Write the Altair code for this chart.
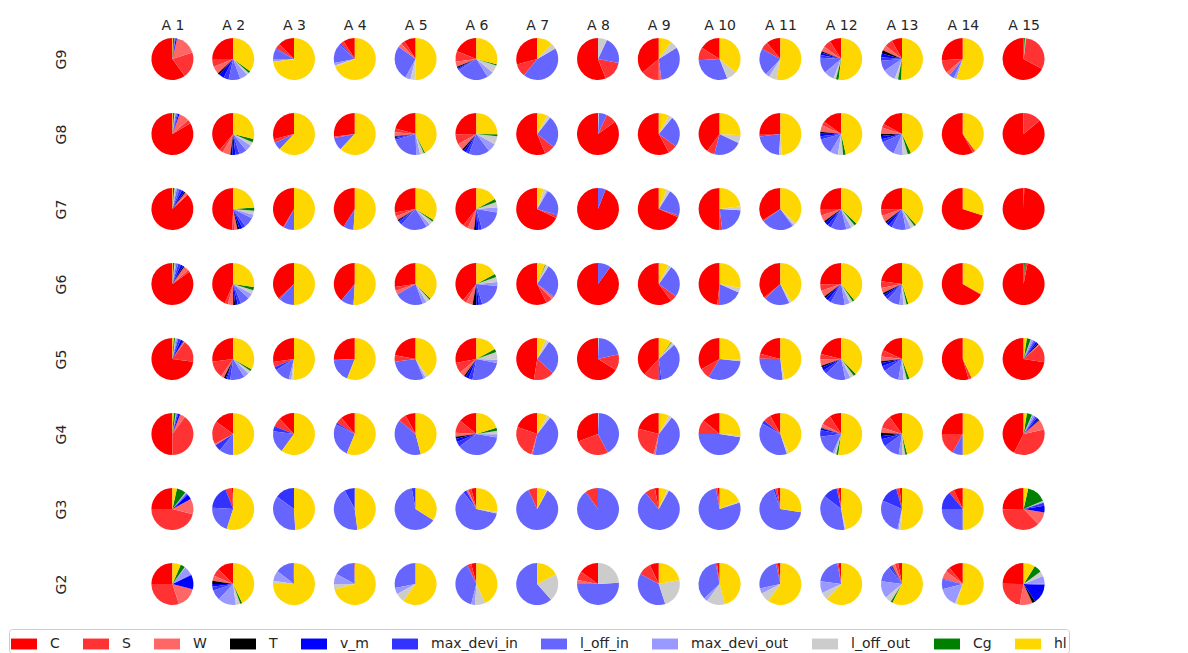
import altair as alt
import pandas as pd

rows = ["G9", "G8", "G7", "G6", "G5", "G4", "G3", "G2"]
cols = ["A 1", "A 2", "A 3", "A 4", "A 5", "A 6", "A 7", "A 8", "A 9", "A 10",
        "A 11", "A 12", "A 13", "A 14", "A 15"]
categories = ["C", "S", "W", "T", "v_m", "max_devi_in", "l_off_in",
              "max_devi_out", "l_off_out", "Cg", "hl"]
colors = ["#ff0000", "#ff3333", "#ff6666", "#000000", "#0000ff", "#3333ff",
          "#6666ff", "#9999ff", "#cccccc", "#008000", "#ffd700"]

# each inner list: C, S, W, T, v_m, max_devi_in, l_off_in, max_devi_out, l_off_out, Cg, hl
G9 = [
    [60, 20, 16.5, 0, 1, 0.5, 0.5, 0, 0, 1, 0.5],
    [25, 6, 6, 1.5, 4, 4, 9, 6, 2, 1.5, 35],
    [12.5, 4, 0, 0, 0, 0.5, 8, 2, 0, 0, 73],
    [9, 3, 0, 0, 0, 1, 15, 2, 1, 0, 69],
    [9, 3, 3, 0, 0, 0, 27, 4, 4, 0, 50],
    [19, 8, 4, 1, 1, 1, 25, 5, 6, 1, 29],
    [29, 10, 0, 0, 0, 0, 44, 0, 4, 0, 12.5],
    [56, 16, 0, 0, 0, 0, 21, 0, 7, 0, 0],
    [36, 14, 2, 0, 0, 0, 32, 0, 6, 0, 10],
    [16, 10, 0, 0, 0, 0, 30, 0, 8, 0, 36],
    [11, 6, 0, 0, 0, 0, 21, 3, 6, 0, 53],
    [9, 6, 4, 1, 2, 2, 12, 8, 2, 2, 52],
    [8, 6, 4, 2.5, 3, 2.5, 8, 10, 2.5, 2.5, 50],
    [26, 10, 3, 0, 0, 0, 4, 2, 0, 0, 55],
    [67, 31, 0.5, 0, 0, 0, 0, 0, 0.5, 1, 0],
]
G8 = [
    [83.5, 3, 8, 0, 1, 1, 1, 0.5, 0.5, 1, 0.5],
    [39, 3, 6, 1.5, 2.5, 3, 6, 5, 3, 2.5, 29],
    [29, 3, 0, 0, 0, 0, 6, 0, 0, 0, 62],
    [27, 1, 0, 0, 0, 0, 10, 0, 0, 0, 62],
    [21, 3, 3, 0.5, 1, 1.5, 21, 3, 3, 1, 43],
    [25, 8, 5, 1.5, 2, 2.5, 16, 6.5, 6.5, 1.5, 25],
    [56, 8, 0, 0, 0, 0, 25, 0, 2.5, 0, 8],
    [85, 8, 0, 0, 0, 0, 6.5, 0, 0.5, 0, 0],
    [58, 7, 0, 0, 0, 0, 24, 0, 3, 0, 8],
    [40, 6, 0, 0, 0, 0, 22, 0, 6, 0, 26],
    [25, 2, 0, 0, 0, 0, 22, 0, 2, 0, 49],
    [15, 3, 5, 1.5, 2, 2.5, 12, 6, 4, 2, 46],
    [17, 3, 5, 1.5, 2.5, 2.5, 12, 7, 4, 2.5, 43],
    [58, 2, 0, 0, 0, 0, 0, 0, 0, 0, 40],
    [86, 14, 0, 0, 0, 0, 0, 0, 0, 0, 0],
]
G7 = [
    [87, 0.5, 2, 1, 2, 2, 2, 1, 1, 1, 0.5],
    [49.5, 1.5, 2.5, 1.5, 2.5, 2.5, 8, 3, 3, 2.5, 24],
    [41.5, 0.5, 0, 0, 0, 0, 8, 0, 0, 0, 50],
    [41, 0, 0, 0, 0, 0, 8, 0, 0, 0, 51],
    [28, 3, 3, 1, 1, 2.5, 21, 3, 3, 1.5, 34],
    [39, 4, 5, 1.5, 2, 2.5, 18, 4, 4, 2.5, 17],
    [68, 2, 0, 0, 0, 0.5, 21, 1, 2.5, 0, 5],
    [94, 0, 0, 0, 0, 0, 6, 0, 0, 0, 0],
    [68.5, 1.5, 0, 0, 0, 0, 21, 0, 3, 0, 6],
    [50, 2, 0, 0, 0, 0, 22, 0, 3, 0, 23],
    [34, 1, 0, 0, 0, 0, 25, 1, 2, 0, 37],
    [25, 5, 5, 1.5, 2.5, 3, 12, 4, 3, 2, 37],
    [25, 5, 5, 1.5, 2.5, 2.5, 11, 4, 3, 1.5, 38],
    [70, 0, 0, 0, 0, 0, 0, 0, 0, 0, 30],
    [99.5, 0.5, 0, 0, 0, 0, 0, 0, 0, 0, 0],
]
G6 = [
    [85, 1.5, 4, 1, 2, 2, 1.5, 1, 0.5, 1, 0.5],
    [43, 2.5, 4, 1.5, 2, 2.5, 7, 4, 3, 2.5, 27],
    [37, 1, 0, 0, 0, 0, 12, 0, 0, 0, 50],
    [39, 0, 0, 0, 0, 0, 10, 0, 0, 0, 51],
    [27, 3, 3, 0, 0, 0, 22, 3, 3, 1, 37],
    [39, 3, 5, 3, 2, 2.5, 19, 3, 4, 2.5, 17],
    [57, 5, 2, 0, 0, 0.5, 26, 0, 2.5, 0.5, 6],
    [90, 0, 0, 0, 0, 0, 10, 0, 0, 0, 0],
    [60, 5, 0, 0, 0, 0, 25, 0, 2.5, 0, 7.5],
    [48, 2, 0, 0, 0, 0, 18, 0, 3.5, 0, 28],
    [36, 1, 0, 0, 0, 0, 20, 0, 2, 0, 41],
    [25, 5, 5, 1.5, 2.5, 2.5, 11, 4, 2.5, 1.5, 39],
    [23, 5, 4, 1.5, 2, 2.5, 10, 3, 2.5, 1.5, 45],
    [66.5, 0.5, 0, 0, 0, 0, 0, 0, 0, 0, 33],
    [97, 2, 0, 0, 0, 0, 0, 0, 0, 1, 0],
]
G5 = [
    [73, 17, 1, 0.5, 2, 2, 1, 1, 0.5, 1, 1],
    [27, 13, 2.5, 1.5, 1, 2.5, 11, 4, 2.5, 1.5, 33],
    [27, 4, 0, 0, 0, 2.5, 12, 2, 1.5, 0, 50],
    [25, 1, 0, 0, 0, 0, 18, 0, 0, 0, 56],
    [22, 5, 0, 0, 0, 0, 29, 1.5, 2, 0, 40],
    [28, 8, 4, 1.5, 2.5, 3, 25, 2.5, 6, 2.5, 17],
    [47.5, 16, 0, 0, 0, 0, 27, 0, 3, 0, 6.5],
    [66.5, 12.5, 0, 0, 0, 0, 21, 0, 0.5, 0, 0],
    [38, 12, 0, 0, 0.5, 1.5, 35, 0, 2.5, 0.5, 10],
    [33, 8, 0, 0, 0, 0, 32, 0, 1.5, 0, 25],
    [21, 4, 0, 0, 0, 0, 27, 0, 1.5, 0, 47],
    [21, 4, 5, 1.5, 2.5, 3, 16, 4, 3, 2, 37.5],
    [18, 5, 3.5, 1.5, 2.5, 4, 12.5, 4, 2.5, 2, 44],
    [54.5, 2.5, 0, 0, 0, 0, 0, 0, 0, 0, 43],
    [72.5, 14, 1, 1, 1.5, 1.5, 1, 1.5, 0.5, 3, 2.5],
]
G4 = [
    [50, 40, 4, 0, 1.5, 1, 0.5, 0, 0.5, 1.5, 1],
    [15, 18, 1, 0, 0, 5, 11, 0, 0, 0, 50],
    [12, 7, 0, 0, 0, 4, 17, 0, 0, 0, 60],
    [11, 5, 0, 0, 0, 1.5, 26, 0, 0, 0, 56],
    [8, 6, 0, 0, 0, 0, 40, 0, 0, 0, 46],
    [14, 10, 3, 1.5, 2.5, 4, 37, 2.5, 2.5, 2.5, 20],
    [19.5, 26, 1, 0, 0, 0, 43, 0, 2.5, 0, 8],
    [31, 27, 0, 0, 0, 0, 42, 0, 0.5, 0, 0],
    [21, 25, 1.5, 0, 0, 0, 42, 0, 2.5, 0, 8],
    [14, 11, 0, 0, 0, 0, 47.5, 0, 1.5, 0, 26],
    [8, 6, 0, 0, 0, 2.5, 38, 0, 1.5, 0, 43],
    [9, 8, 3, 0.5, 1.5, 5, 16, 1.5, 1.5, 1.5, 52],
    [10, 10, 4, 2.5, 2.5, 6, 12.5, 2.5, 2.5, 1.5, 46],
    [25, 17, 0, 0, 0, 0, 8, 0, 0, 0, 50],
    [42.5, 36, 8, 1, 1.5, 1.5, 1, 1.5, 0.5, 4, 2.5],
]
G3 = [
    [25, 46, 12, 0, 4, 1, 0.5, 0.5, 0.5, 7, 3.5],
    [1, 5, 0, 0, 0, 18, 21, 0, 0, 0, 55],
    [0, 0, 0, 0, 0, 15, 36, 0, 0, 0, 49],
    [0, 0, 0, 0, 0, 8, 44, 0, 0, 0, 48],
    [0, 0, 0, 0, 0, 3, 63, 0, 0, 0, 34],
    [4, 2.5, 1.5, 0, 0, 2.5, 61, 0, 1.5, 0, 27],
    [0, 7, 0, 0, 0, 0, 85, 0, 0.5, 0, 7.5],
    [0, 10, 0, 0, 0, 0, 90, 0, 0, 0, 0],
    [3, 8, 0, 0, 0, 0, 81, 0, 1.5, 0, 6.5],
    [1.5, 1.5, 0, 0, 0, 0, 77, 0, 1, 0, 19],
    [2.5, 1.5, 0, 0, 0, 1.5, 67, 0, 0, 0, 27.5],
    [2, 1.5, 0, 0, 0, 11, 38, 0.5, 1, 0, 46],
    [2, 2.5, 0, 0, 0, 14, 28, 1, 1.5, 0, 51],
    [7, 4, 0, 0, 0, 14, 25, 0, 0, 0, 50],
    [25, 37, 10, 0, 5, 2.5, 0.5, 0.5, 0.5, 15, 3.5],
]
G2 = [
    [25, 30, 16, 0, 11, 0.5, 0.5, 6.5, 0.5, 3.5, 6.5],
    [12.5, 6, 4, 2.5, 2, 3, 8, 14, 3.5, 1.5, 43],
    [0.5, 0, 0, 0, 0, 0, 14, 8, 2.5, 0, 75],
    [0.5, 0, 0, 0, 0, 0, 16.5, 8, 4, 0, 71],
    [0, 0, 0, 0, 0, 0, 28, 5, 7, 0, 60],
    [4, 3, 0, 0, 0, 0.5, 38.5, 3, 8, 0, 43],
    [0, 0, 0, 0, 0, 0, 61.5, 0, 21, 0, 17.5],
    [15, 7, 3, 0, 0, 0, 51, 0, 24, 0, 0],
    [7, 10, 0, 0, 0, 0, 38, 0, 23, 0, 22],
    [2, 1, 0, 0, 0, 0, 34, 3, 14, 0, 46],
    [2, 1.5, 0, 0, 0, 0, 25, 4, 7.5, 0, 60],
    [2, 1, 0, 0, 0, 0, 20, 9, 6, 0, 62],
    [3, 2.5, 2.5, 0.5, 0.5, 1.5, 12.5, 13, 5, 1.5, 57.5],
    [11, 3.5, 6.5, 0, 0, 0.5, 7.5, 15, 1, 0, 55],
    [25, 22.5, 10, 2.5, 15, 0.5, 0.5, 6, 4, 6, 9],
]

grid = {"G9": G9, "G8": G8, "G7": G7, "G6": G6,
        "G5": G5, "G4": G4, "G3": G3, "G2": G2}

records = []
for r in rows:
    for ci, c in enumerate(cols):
        for k, cat in enumerate(categories):
            records.append({"row": r, "col": c, "cat": cat, "k": k,
                            "value": grid[r][ci][k]})
df = pd.DataFrame(records)

FONT = "DejaVu Sans"
TXT = "#262626"

chart = (
    alt.Chart(df)
    .transform_stack(
        stack="value",
        groupby=["row", "col"],
        as_=["v0", "v1"],
        offset="normalize",
        sort=[alt.SortField("k", order="descending")],
    )
    .mark_arc(radius=21, strokeWidth=0)
    .encode(
        x=alt.X(
            "col:N",
            sort=cols,
            scale=alt.Scale(type="point", padding=0.5),
            axis=alt.Axis(orient="top", title=None, ticks=False, tickSize=0,
                          domain=False, labelAngle=0, labelPadding=5,
                          labelBaseline="alphabetic", labelFont=FONT,
                          labelFontSize=14, labelColor=TXT, grid=False),
        ),
        y=alt.Y(
            "row:N",
            sort=rows,
            scale=alt.Scale(type="point", range=[25, 550], padding=0),
            axis=alt.Axis(orient="left", title=None, ticks=False, tickSize=0,
                          domain=False, labelAngle=270, labelAlign="center",
                          labelBaseline="alphabetic", labelPadding=77,
                          labelFont=FONT, labelFontSize=14, labelColor=TXT,
                          grid=False),
        ),
        theta=alt.Theta("v0:Q", scale=alt.Scale(domain=[0, 1], range=[0, 6.283185307179586])),
        theta2="v1:Q",
        color=alt.Color(
            "cat:N",
            scale=alt.Scale(domain=categories, range=colors),
            legend=alt.Legend(
                title=None, orient="none", legendX=-133, legendY=595,
                direction="horizontal", columns=11,
                symbolType="M-1,-0.42H1V0.42H-1Z", symbolSize=676,
                symbolStrokeWidth=0, labelFont=FONT, labelFontSize=14,
                labelColor=TXT, labelOffset=13, columnPadding=23, padding=2,
                strokeColor="#cccccc", cornerRadius=3, fillColor="white",
                labelBaseline="middle",
            ),
        ),
    )
    .properties(
        width=912,
        height=590,
        autosize=alt.AutoSizeParams(type="none"),
        padding={"left": 134, "top": 26, "right": 110, "bottom": 29},
    )
    .configure_view(stroke=None)
)

chart.save("out.html", embed_options={"renderer": "svg", "actions": False})
